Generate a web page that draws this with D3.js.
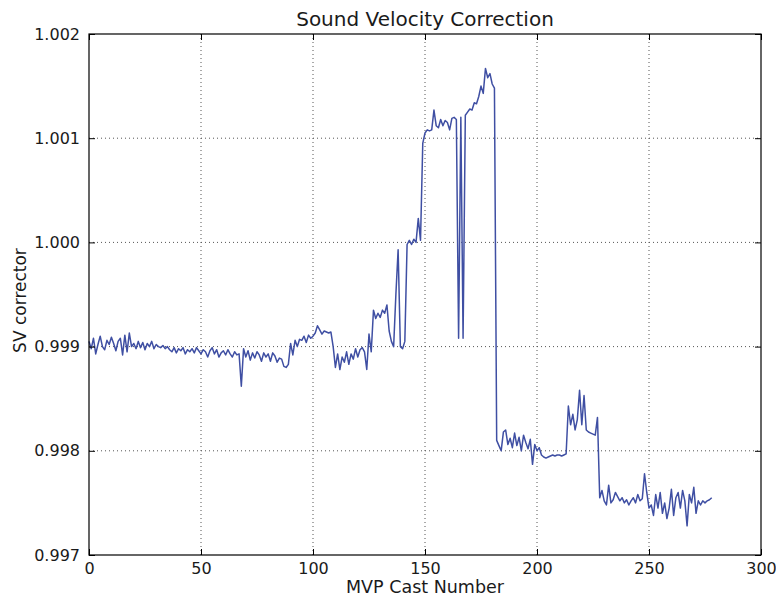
<!DOCTYPE html>
<html><head><meta charset="utf-8">
<script src="https://cdn.jsdelivr.net/npm/d3@7"></script>
<style>body{margin:0;background:#fff}svg{display:block}text{font-family:"DejaVu Sans",sans-serif;fill:#1a1a1a}</style>
</head><body>
<svg id="c" width="776" height="599"></svg>
<script>
const svValues = [
0.99905,0.99898,0.99908,0.99893,0.99902,0.99910,0.99900,0.99897,0.99906,0.99902,
0.99909,0.99903,0.99896,0.99905,0.99908,0.99892,0.99911,0.99895,0.99913,0.99900,
0.99903,0.99898,0.99905,0.99899,0.99904,0.99897,0.99903,0.99900,0.99905,0.99898,
0.99902,0.99900,0.99899,0.99901,0.99898,0.99900,0.99897,0.99895,0.99899,0.99894,
0.99898,0.99896,0.99899,0.99893,0.99897,0.99895,0.99898,0.99894,0.99899,0.99896,
0.99893,0.99897,0.99895,0.99890,0.99896,0.99899,0.99893,0.99897,0.99890,0.99894,
0.99896,0.99892,0.99897,0.99893,0.99890,0.99895,0.99892,0.99893,0.99862,0.99898,
0.99890,0.99896,0.99887,0.99894,0.99889,0.99895,0.99892,0.99886,0.99894,0.99890,
0.99893,0.99886,0.99894,0.99891,0.99885,0.99889,0.99888,0.99881,0.99880,0.99883,
0.99903,0.99892,0.99906,0.99900,0.99907,0.99906,0.99910,0.99904,0.99911,0.99908,
0.99910,0.99913,0.99920,0.99916,0.99912,0.99915,0.99914,0.99913,0.99914,0.99900,
0.99880,0.99893,0.99878,0.99890,0.99885,0.99895,0.99883,0.99893,0.99888,0.99898,
0.99890,0.99897,0.99899,0.99895,0.99878,0.99912,0.99895,0.99935,0.99927,0.99932,
0.99928,0.99935,0.99932,0.99940,0.99915,0.99905,0.99900,0.99950,0.99993,0.99900,
0.99898,0.99905,0.99998,1.00002,0.99998,1.00003,1.00000,1.00023,1.00002,1.00095,
1.00105,1.00108,1.00107,1.00108,1.00127,1.00112,1.00110,1.00118,1.00112,1.00117,
1.00115,1.00108,1.00119,1.00120,1.00118,0.99908,1.00120,0.99908,1.00122,1.00125,
1.00128,1.00127,1.00134,1.00133,1.00140,1.00150,1.00143,1.00167,1.00158,1.00162,
1.00152,1.00148,
0.99810,0.99805,0.99800,0.99818,0.99820,0.99806,0.99812,0.99803,0.99817,0.99805,
0.99813,0.99800,0.99815,0.99808,0.99802,0.99811,0.99787,0.99806,
0.99800,0.99803,0.99796,0.99794,0.99793,0.99794,0.99795,0.99796,0.99795,0.99796,
0.99796,0.99795,0.99796,0.99797,
0.99843,0.99825,0.99835,0.99820,0.99830,0.99858,0.99825,0.99853,0.99820,0.99818,
0.99817,0.99816,0.99815,0.99832,0.99755,
0.99762,0.99752,0.99748,0.99767,0.99750,0.99753,0.99760,0.99756,0.99752,0.99755,
0.99750,0.99753,0.99748,0.99752,0.99755,0.99750,0.99758,0.99752,0.99754,0.99778,
0.99760,
0.99745,0.99748,0.99738,0.99758,0.99745,0.99760,0.99740,0.99750,0.99735,0.99745,
0.99763,0.99738,0.99755,0.99760,0.99745,0.99762,0.99752,0.99728,0.99758,0.99750,
0.99765,0.99740,0.99752,0.99748,0.99752,0.99750,0.99752,0.99753,0.99755
];
const castNumbers = svValues.map((_, i) => i);
const xTicks = [0, 50, 100, 150, 200, 250, 300];
const yTicks = [0.997, 0.998, 0.999, 1.000, 1.001, 1.002];
const yTickLabels = ["0.997", "0.998", "0.999", "1.000", "1.001", "1.002"];

const L = 89, R = 761, T = 34, B = 555;
const svg = d3.select("#c");
const x = d3.scaleLinear().domain([0, 300]).range([L, R]);
const y = d3.scaleLinear().domain([0.997, 1.002]).range([B, T]);

// grid
const g = svg.append("g");
g.selectAll(".gx").data(xTicks.slice(1, -1)).enter().append("line")
  .attr("x1", d => x(d)).attr("x2", d => x(d)).attr("y1", T).attr("y2", B)
  .attr("stroke", "#555").attr("stroke-width", 1).attr("stroke-dasharray", "1,3");
g.selectAll(".gy").data(yTicks.slice(1, -1)).enter().append("line")
  .attr("y1", d => y(d)).attr("y2", d => y(d)).attr("x1", L).attr("x2", R)
  .attr("stroke", "#555").attr("stroke-width", 1).attr("stroke-dasharray", "1,3");

// line
const line = d3.line().x((d, i) => x(castNumbers[i])).y(d => y(d));
svg.append("path").datum(svValues).attr("d", line)
  .attr("fill", "none").attr("stroke", "#3f4fa3").attr("stroke-width", 1.5)
  .attr("stroke-linejoin", "round");

// axes (ticks inward, on all sides)
const fmtY = (d, i) => yTickLabels[i];
const ax = svg.append("g").attr("transform", `translate(0,${B})`)
  .call(d3.axisBottom(x).tickValues(xTicks).tickSize(-6).tickPadding(8).tickFormat(d3.format("d")));
const axT = svg.append("g").attr("transform", `translate(0,${T})`)
  .call(d3.axisTop(x).tickValues(xTicks).tickSize(-6).tickFormat(""));
const ay = svg.append("g").attr("transform", `translate(${L},0)`)
  .call(d3.axisLeft(y).tickValues(yTicks).tickSize(-6).tickPadding(9).tickFormat(fmtY));
const ayR = svg.append("g").attr("transform", `translate(${R},0)`)
  .call(d3.axisRight(y).tickValues(yTicks).tickSize(-6).tickFormat(""));
[ax, axT, ay, ayR].forEach(a => {
  a.select(".domain").remove();
  a.selectAll("line").attr("stroke", "#000");
  a.selectAll("text").style("font-family", "DejaVu Sans").style("font-size", "16px").attr("fill", "#1a1a1a");
});
ax.selectAll("text").attr("dy", "0.71em");

svg.append("rect").attr("x", L).attr("y", T).attr("width", R - L).attr("height", B - T)
  .attr("fill", "none").attr("stroke", "#000").attr("stroke-width", 1.2);

svg.append("text").attr("x", (L + R) / 2).attr("y", 26).attr("text-anchor", "middle")
  .style("font-size", "20px").text("Sound Velocity Correction");
svg.append("text").attr("x", (L + R) / 2).attr("y", 593).attr("text-anchor", "middle")
  .style("font-size", "17.5px").text("MVP Cast Number");
svg.append("text").attr("transform", `translate(26,${(T + B) / 2 + 6}) rotate(-90)`).attr("text-anchor", "middle")
  .style("font-size", "17px").text("SV corrector");
</script>
</body></html>
